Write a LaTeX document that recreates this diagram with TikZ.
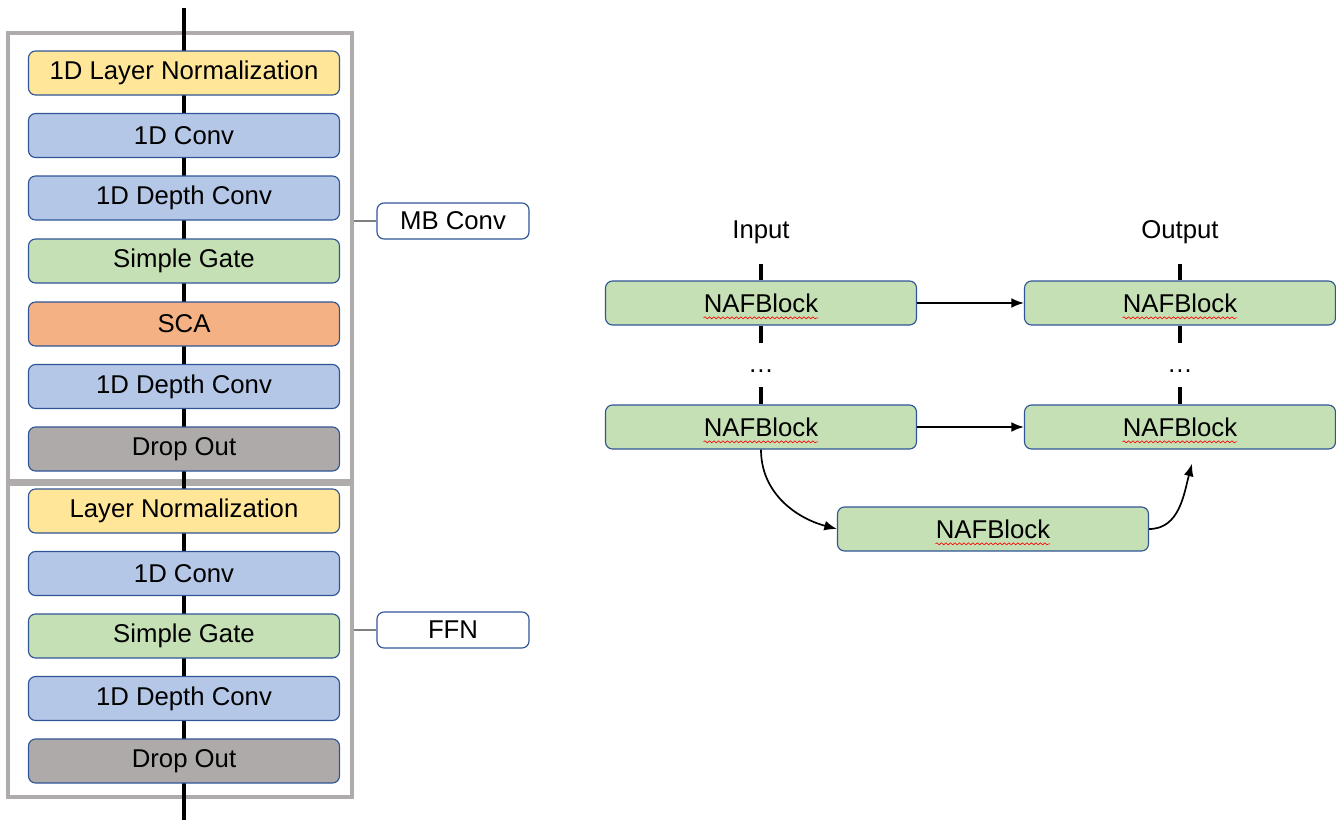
\documentclass[tikz,border=0pt]{standalone}
\usepackage{fontspec}
\setmainfont{Liberation Sans}
\usetikzlibrary{arrows.meta,decorations.pathmorphing}

\definecolor{amarillo}{HTML}{FFE699}
\definecolor{azul}{HTML}{B4C7E7}
\definecolor{verde}{HTML}{C5E0B4}
\definecolor{naranja}{HTML}{F4B183}
\definecolor{gris}{HTML}{AEAAAA}
\definecolor{borde}{HTML}{2F5597}
\definecolor{grisMarco}{HTML}{AFABAB}
\definecolor{grisLinea}{HTML}{7F7F7F}

\newcommand{\blkfont}{\fontsize{18.3}{22}\selectfont}
% NAFBlock with the red wavy underline
\newcommand{\naf}{\tikz[baseline=(w.base), sharp corners]{\node[inner sep=0pt, minimum width=0pt, minimum height=0pt, draw=none, fill=none] (w) {NAFBlock};
  \draw[overlay, red, line width=0.45pt, sharp corners, decorate, decoration={snake, amplitude=0.7pt, segment length=3.2pt}]
    ([yshift=-4pt]w.base west) -- ([yshift=-4pt]w.base east);}}

\begin{document}
\begin{tikzpicture}[
      blk/.style={draw=borde, line width=0.8pt, rounded corners=5pt, minimum width=7.775cm, minimum height=1.1cm, font=\blkfont},
      grp/.style={draw=grisMarco, line width=2.6pt, minimum width=8.6cm},
      tag/.style={draw=borde, line width=0.8pt, rounded corners=5pt, fill=white, minimum width=3.8cm, minimum height=0.9cm, font=\blkfont},
      lbl/.style={font=\blkfont},
      bus/.style={line width=3pt},
      arr/.style={-{Latex[length=9pt,width=7pt]}, line width=1.2pt}
    ]
    \useasboundingbox (0,0) rectangle (33.4,-20.55);

    % --- (a) MB Conv + FFN ---
    \node[grp, minimum height=11.2cm] (mb) at (4.5,-6.425) {};
    \node[grp, minimum height=7.825cm] (ffn) at (4.5,-16.0125) {};
    \coordinate (top) at (4.6,-0.2);
    \coordinate (bot) at (4.6,-20.5);
    \draw[bus] (top) -- (bot);

    \node[blk, fill=amarillo] (ln1) at (4.6,-1.825) {1D Layer Normalization};
    \node[blk, fill=azul] (cv1) at (4.6,-3.3875) {1D Conv};
    \node[blk, fill=azul] (dw1) at (4.6,-4.95) {1D Depth Conv};
    \node[blk, fill=verde] (sg1) at (4.6,-6.525) {Simple Gate};
    \node[blk, fill=naranja] (sca) at (4.6,-8.1) {SCA};
    \node[blk, fill=azul] (dw2) at (4.6,-9.6625) {1D Depth Conv};
    \node[blk, fill=gris] (do1) at (4.6,-11.225) {Drop Out};

    \node[blk, fill=amarillo] (ln2) at (4.6,-12.775) {Layer Normalization};
    \node[blk, fill=azul] (cv2) at (4.6,-14.3375) {1D Conv};
    \node[blk, fill=verde] (sg2) at (4.6,-15.9) {Simple Gate};
    \node[blk, fill=azul] (dw3) at (4.6,-17.4625) {1D Depth Conv};
    \node[blk, fill=gris] (do2) at (4.6,-19.025) {Drop Out};

    \node[tag] (tmb) at (11.325,-5.525) {MB Conv};
    \node[tag] (tffn) at (11.325,-15.75) {FFN};
    \draw[grisLinea, line width=1.4pt] (tmb.west) -- (mb.east |- tmb.west);
    \draw[grisLinea, line width=1.4pt] (tffn.west) -- (ffn.east |- tffn.west);

    % --- (b) NAFBlock stack ---
    \node[lbl] (in) at (19.025,-5.8) {Input};
    \node[lbl] (out) at (29.5,-5.8) {Output};
    \node[blk, fill=verde] (n1) at (19.025,-7.575) {\naf};
    \node[blk, fill=verde] (n2) at (29.5,-7.575) {\naf};
    \node[lbl] (d1) at (19.025,-9.275) {\ldots};
    \node[lbl] (d2) at (29.5,-9.275) {\ldots};
    \node[blk, fill=verde] (n3) at (19.025,-10.675) {\naf};
    \node[blk, fill=verde] (n4) at (29.5,-10.675) {\naf};
    \node[blk, fill=verde] (n5) at (24.825,-13.225) {\naf};

    \coordinate (s1) at ([yshift=0.4cm]n1.north);
    \coordinate (s2) at ([yshift=-0.425cm]n1.south);
    \coordinate (s3) at ([yshift=0.425cm]n3.north);
    \coordinate (s4) at ([yshift=0.4cm]n2.north);
    \coordinate (s5) at ([yshift=-0.425cm]n2.south);
    \coordinate (s6) at ([yshift=0.425cm]n4.north);
    \draw[bus] (s1) -- (n1.north);
    \draw[bus] (n1.south) -- (s2);
    \draw[bus] (s3) -- (n3.north);
    \draw[bus] (s4) -- (n2.north);
    \draw[bus] (n2.south) -- (s5);
    \draw[bus] (s6) -- (n4.north);

    \draw[arr] (n1) -- (n2);
    \draw[arr] (n3) -- (n4);
    \coordinate (tip) at ([xshift=0.3cm, yshift=-0.35cm]n4.south);
    \draw[arr] (n3.south) to[out=-90, in=165] (n5.west);
    \draw[arr] (n5.east) to[out=0, in=-105] (tip);
  \end{tikzpicture}
\end{document}
